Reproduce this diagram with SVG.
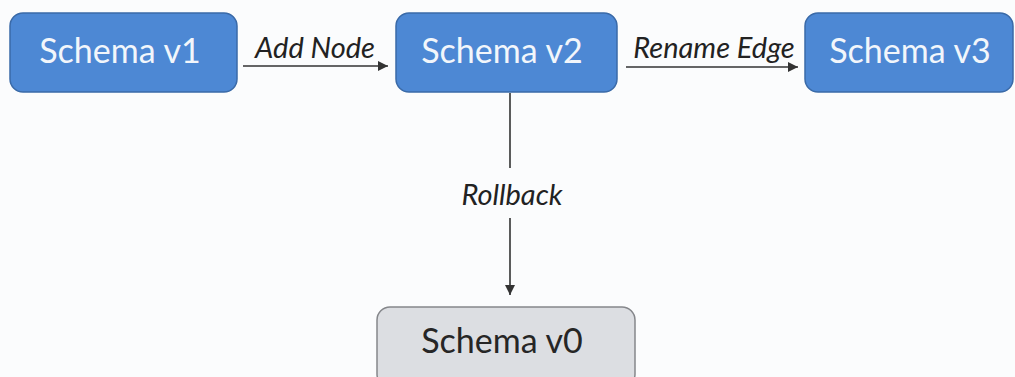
<svg xmlns="http://www.w3.org/2000/svg" width="1015" height="377" viewBox="0 0 1015 377">
<defs>
<style>
.blue{fill:#4d88d4;stroke:#3a6aa8;stroke-width:1.5}
.gray{fill:#dcdee2;stroke:#85878b;stroke-width:1.5}
.nt{font-family:Lato,"Open Sans",sans-serif;font-size:34px;text-anchor:middle}
.wt{fill:#f2f6fb}
.dt{fill:#262626}
.lbl{font-family:Lato,"Open Sans",sans-serif;font-style:italic;font-size:29px;fill:#222;text-anchor:middle}
.ln{stroke:#333;stroke-width:1.6;fill:none}
</style>
<marker id="ah" viewBox="0 0 10 10" refX="10" refY="5" markerWidth="10" markerHeight="10" markerUnits="userSpaceOnUse" orient="auto">
<path d="M0,0 L10,5 L0,10 z" fill="#333"/>
</marker>
</defs>
<rect width="1015" height="377" fill="#fbfcfd"/>
<g id="connectors">
<line class="ln" x1="243" y1="66" x2="388" y2="66" marker-end="url(#ah)"/>
<text class="lbl" x="315" y="58">Add Node</text>
<line class="ln" x1="626" y1="67" x2="798" y2="67" marker-end="url(#ah)"/>
<text class="lbl" x="714" y="58">Rename Edge</text>
<line class="ln" x1="510" y1="93" x2="510" y2="168"/>
<text class="lbl" x="512" y="205">Rollback</text>
<line class="ln" x1="510" y1="218" x2="510" y2="295" marker-end="url(#ah)"/>
</g>
<g id="node-v1">
<rect class="blue" x="10" y="13" width="227" height="79" rx="13"/>
<text class="nt wt" x="120" y="63">Schema v1</text>
</g>
<g id="node-v2">
<rect class="blue" x="396" y="13" width="221" height="79" rx="13"/>
<text class="nt wt" x="502" y="63">Schema v2</text>
</g>
<g id="node-v3">
<rect class="blue" x="805" y="13" width="208" height="79" rx="13"/>
<text class="nt wt" x="910" y="63">Schema v3</text>
</g>
<g id="node-v0">
<rect class="gray" x="377" y="307" width="258" height="80" rx="13"/>
<text class="nt dt" x="502" y="353">Schema v0</text>
</g>
</svg>
